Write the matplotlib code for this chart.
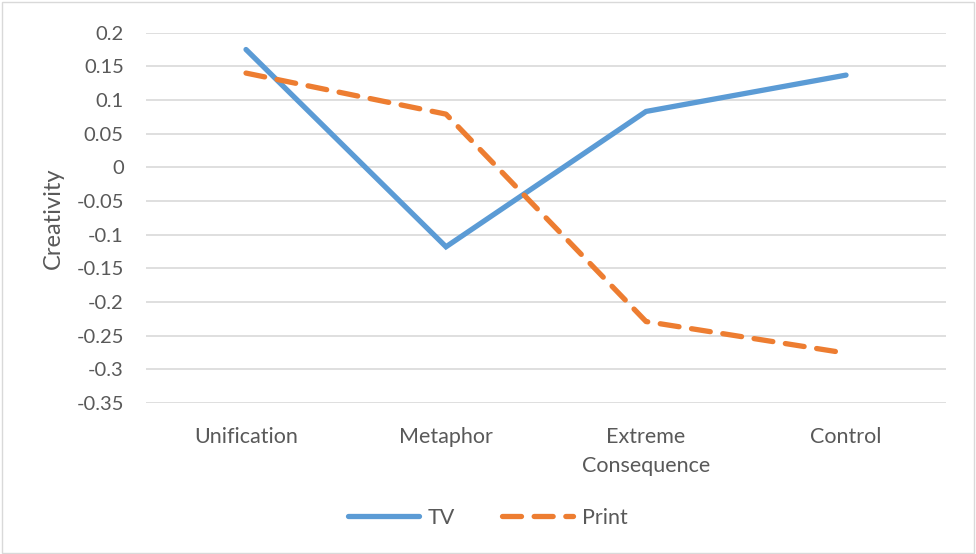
import matplotlib.pyplot as plt
from matplotlib.patches import Rectangle

plt.rcParams['font.family'] = ['Lato', 'DejaVu Sans']

categories = ["Unification", "Metaphor", "Extreme\nConsequence", "Control"]
tv = [0.175, -0.118, 0.083, 0.137]
print_ads = [0.140, 0.079, -0.229, -0.276]
yticks = [0.2, 0.15, 0.1, 0.05, 0, -0.05, -0.1, -0.15, -0.2, -0.25, -0.3, -0.35]

text_color = "#595959"
grid_color = "#d9d9d9"

fig = plt.figure(figsize=(9.76, 5.54), dpi=100)
ax = fig.add_axes([0.1496, 0.2726, 0.8197, 0.6684])

x = list(range(len(categories)))
ax.plot(x, tv, color="#5B9BD5", linewidth=3.8, solid_capstyle="round",
        solid_joinstyle="miter", label="TV", zorder=3)
ax.plot(x, print_ads, color="#ED7D31", linewidth=3.8, linestyle=(0, (3.6, 2.4)),
        dash_capstyle="round", label="Print", zorder=3)

ax.set_xlim(-0.5, 3.5)
ax.set_ylim(-0.35, 0.2)
ax.set_yticks(yticks)
ax.set_yticklabels([f"{v:g}" for v in yticks])
ax.set_xticks(x)
ax.set_xticklabels(categories, linespacing=1.6)
ax.grid(axis="y", color=grid_color, linewidth=1.2)
ax.set_axisbelow(True)
for s in ax.spines.values():
    s.set_visible(False)
ax.tick_params(axis="y", length=0, pad=16, labelsize=14.5, labelcolor=text_color)
ax.tick_params(axis="x", length=0, pad=17, labelsize=15.5, labelcolor=text_color)
ax.set_ylabel("Creativity", fontsize=17, color=text_color, labelpad=9)

fig.legend(loc="center", bbox_to_anchor=(0.5, 0.065), ncol=2, frameon=False,
           fontsize=15.5, labelcolor=text_color, handlelength=3.3, columnspacing=2.2,
           handletextpad=0.4)

fig.patches.append(Rectangle((0.002, 0.002), 0.996, 0.995, transform=fig.transFigure,
                             fill=False, edgecolor=grid_color, linewidth=1))

fig.savefig("out.png", dpi=100)
